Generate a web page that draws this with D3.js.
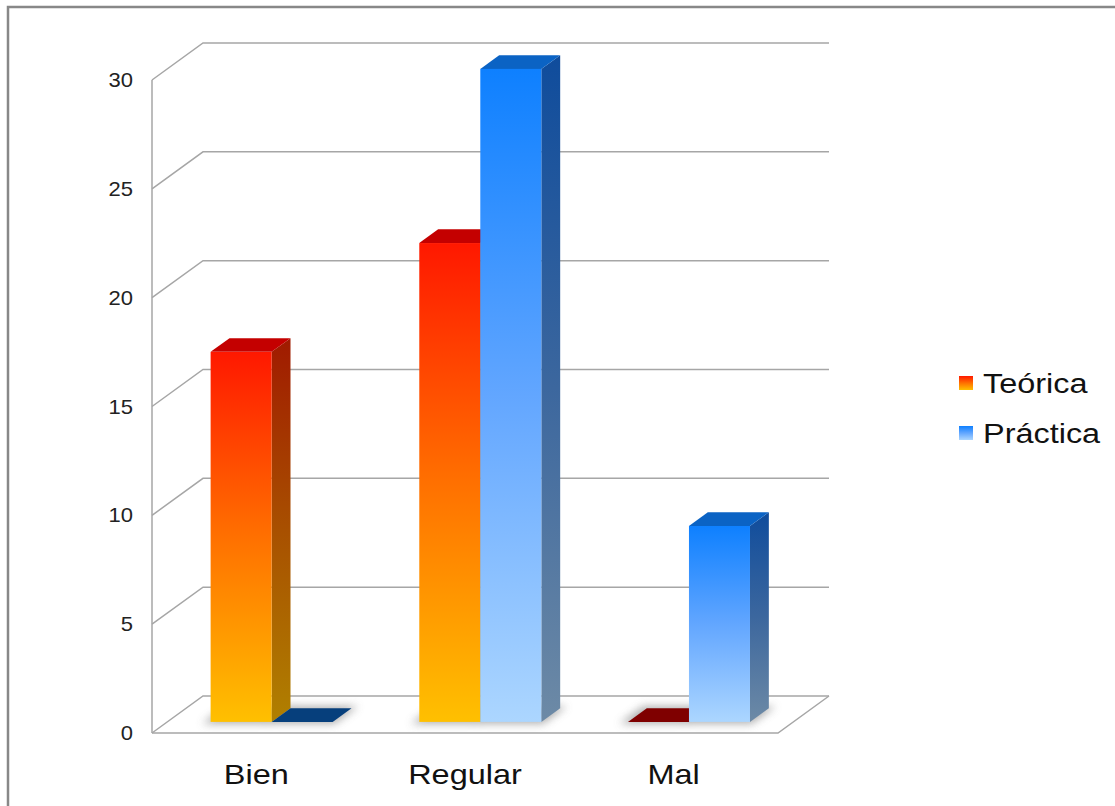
<!DOCTYPE html>
<html>
<head>
<meta charset="utf-8">
<script src="https://cdn.jsdelivr.net/npm/d3@7"></script>
<style>
  body { margin: 0; background: #fff; }
  svg { display: block; font-family: "Liberation Sans", Arial, sans-serif; }
</style>
</head>
<body>
<svg id="chart"></svg>
<script>
// data
const categories = ["Bien", "Regular", "Mal"]
const series = ["Teórica", "Práctica"]
const teorica = [17, 22, 0]
const practica = [0, 30, 9]
const yTicks = [0, 5, 10, 15, 20, 25, 30]

const width = 1115, height = 806
const depthX = 51, depthY = -37   // full depth offset of the 3d box
const zFront = 0.3, zBack = 0.67  // where the bars sit inside the box

const svg = d3.select("#chart").attr("width", width).attr("height", height)

const x = d3.scaleBand().domain(categories).range([152, 778])
const xs = d3.scaleBand().domain(series).range([0, x.bandwidth()]).paddingOuter(0.71).paddingInner(0)
const y = d3.scaleLinear().domain([0, 30]).range([733, 80])

// oblique projection: screen point for (px on front plane, value, depth)
const P = (px, v, z) => [px + depthX * z, y(v) + depthY * z]
const poly = pts => pts.map(p => p.join(",")).join(" ")

const defs = svg.append("defs")
function grad(id, stops) {
  const g = defs.append("linearGradient").attr("id", id)
    .attr("x1", 0).attr("y1", 0).attr("x2", 0).attr("y2", 1)
  stops.forEach(([o, c]) => g.append("stop").attr("offset", o).attr("stop-color", c))
}
grad("tFront", [[0, "#ff1800"], [0.5, "#ff7000"], [1, "#ffc000"]])
grad("tSide", [[0, "#a01a00"], [0.5, "#a85000"], [1, "#b08000"]])
grad("pFront", [[0, "#0e80ff"], [0.5, "#62a6ff"], [1, "#acd6ff"]])
grad("pSide", [[0, "#0f4c9c"], [0.5, "#3c679e"], [1, "#6d8aa6"]])
defs.append("filter").attr("id", "blur").attr("x", -0.3).attr("y", -0.5).attr("width", 1.6).attr("height", 2)
  .append("feGaussianBlur").attr("stdDeviation", 4)

const styles = {
  "Teórica": { front: "url(#tFront)", side: "url(#tSide)", top: "#c40000", flat: "#7f0000" },
  "Práctica": { front: "url(#pFront)", side: "url(#pSide)", top: "#0b63c4", flat: "#063f7c" }
}

// frame
svg.append("path").attr("d", `M8,${height} V7 H${width}`)
  .attr("fill", "none").attr("stroke", "#888").attr("stroke-width", 2.5)

// walls and floor
const grid = svg.append("g").attr("stroke", "#a6a6a6").attr("stroke-width", 1.5).attr("fill", "none")
yTicks.forEach(t => {
  const a = P(152, t, 0), b = P(152, t, 1), c = P(778, t, 1)
  grid.append("polyline").attr("points", poly([a, b, c]))
})
grid.append("line").attr("x1", 152).attr("x2", 152).attr("y1", y(30)).attr("y2", y(0))
grid.append("polyline").attr("points", poly([P(152, 0, 0), P(778, 0, 0), P(778, 0, 1)]))

// tick labels (source picture is a bit stretched horizontally)
svg.append("g").selectAll("text").data(yTicks).join("text")
  .attr("transform", d => `translate(133,${y(d) + 7}) scale(1.1,1)`)
  .attr("text-anchor", "end").attr("font-size", 20).attr("fill", "#222")
  .text(d => d)

// bars
const rows = categories.flatMap((c, i) => [
  { cat: c, s: "Teórica", v: teorica[i] },
  { cat: c, s: "Práctica", v: practica[i] }
])

// shadows first
const shadow = svg.append("g").attr("filter", "url(#blur)").attr("fill", "#9a9a9a").attr("opacity", 0.8)
rows.forEach(d => {
  const x0 = x(d.cat) + xs(d.s), x1 = x0 + xs.bandwidth()
  shadow.append("polygon").attr("points",
    poly([P(x0 - 6, 0, zFront - 0.05), P(x1 + 4, 0, zFront - 0.05), P(x1 + 4, 0, zBack + 0.05), P(x0 - 6, 0, zBack + 0.05)]))
})

const bars = svg.append("g")
rows.forEach(d => {
  const st = styles[d.s]
  const x0 = x(d.cat) + xs(d.s), x1 = x0 + xs.bandwidth()
  if (d.v === 0) {
    bars.append("polygon").attr("fill", st.flat)
      .attr("points", poly([P(x0, 0, zFront), P(x1, 0, zFront), P(x1, 0, zBack), P(x0, 0, zBack)]))
    return
  }
  const g = bars.append("g")
  g.append("polygon").attr("fill", st.side)
    .attr("points", poly([P(x1, 0, zFront), P(x1, d.v, zFront), P(x1, d.v, zBack), P(x1, 0, zBack)]))
  g.append("polygon").attr("fill", st.top)
    .attr("points", poly([P(x0, d.v, zFront), P(x1, d.v, zFront), P(x1, d.v, zBack), P(x0, d.v, zBack)]))
  const f0 = P(x0, d.v, zFront), f1 = P(x1, 0, zFront)
  g.append("rect").attr("fill", st.front)
    .attr("x", f0[0]).attr("y", f0[1]).attr("width", f1[0] - f0[0]).attr("height", f1[1] - f0[1])
})

// category labels
svg.append("g").selectAll("text").data(categories).join("text")
  .attr("transform", d => `translate(${x(d) + x.bandwidth() / 2},784) scale(1.16,1)`)
  .attr("text-anchor", "middle").attr("font-size", 28).attr("fill", "#111")
  .text(d => d)

// legend
const legend = svg.append("g").selectAll("g").data(series).join("g")
  .attr("transform", (d, i) => `translate(959,${376 + i * 50})`)
legend.append("rect").attr("width", 14).attr("height", 14)
  .attr("fill", d => styles[d].front)
legend.append("text").attr("transform", "translate(24,17) scale(1.18,1)")
  .attr("font-size", 27.5).attr("fill", "#111")
  .text(d => d)
</script>
</body>
</html>
